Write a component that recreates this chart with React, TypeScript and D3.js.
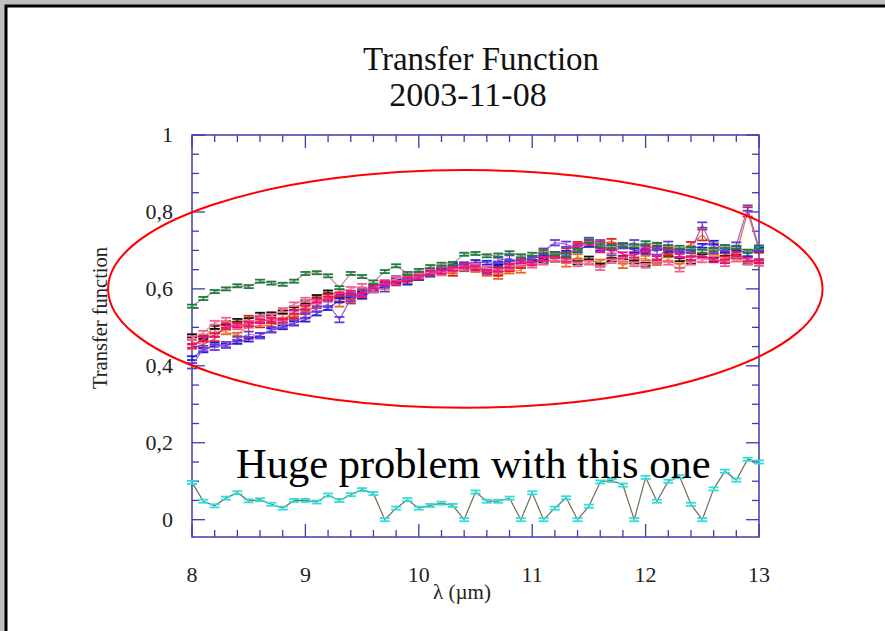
import React from "react";
import * as d3 from "d3";

const W = 885;
const H = 631;

// Wavelength grid (µm)
const lambda = [
  8.0, 8.1, 8.2, 8.3, 8.4, 8.5, 8.6, 8.7, 8.8, 8.9,
  9.0, 9.1, 9.2, 9.3, 9.4, 9.5, 9.6, 9.7, 9.8, 9.9,
  10.0, 10.1, 10.2, 10.3, 10.4, 10.5, 10.6, 10.7, 10.8, 10.9,
  11.0, 11.1, 11.2, 11.3, 11.4, 11.5, 11.6, 11.7, 11.8, 11.9,
  12.0, 12.1, 12.2, 12.3, 12.4, 12.5, 12.6, 12.7, 12.8, 12.9, 13.0,
];

const greenTF = [
  0.555, 0.575, 0.593, 0.6, 0.608, 0.606, 0.62, 0.615, 0.612, 0.62,
  0.64, 0.642, 0.634, 0.603, 0.64, 0.632, 0.618, 0.645, 0.66, 0.64,
  0.648, 0.658, 0.664, 0.666, 0.69, 0.692, 0.686, 0.688, 0.694, 0.686,
  0.69, 0.697, 0.692, 0.688, 0.7, 0.724, 0.712, 0.71, 0.714, 0.712,
  0.72, 0.716, 0.71, 0.708, 0.705, 0.698, 0.702, 0.71, 0.708, 0.698, 0.708,
];

const blackTF = [
  0.478, 0.474, 0.5, 0.512, 0.518, 0.52, 0.534, 0.535, 0.54, 0.548,
  0.566, 0.58, 0.592, 0.582, 0.58, 0.59, 0.6, 0.612, 0.618, 0.624,
  0.64, 0.636, 0.648, 0.655, 0.65, 0.66, 0.652, 0.66, 0.668, 0.664,
  0.67, 0.672, 0.676, 0.686, 0.668, 0.68, 0.662, 0.676, 0.682, 0.67,
  0.664, 0.672, 0.69, 0.676, 0.67, 0.686, 0.676, 0.69, 0.684, 0.668, 0.672,
];

const redTF = [
  0.462, 0.455, 0.47, 0.505, 0.506, 0.5, 0.506, 0.505, 0.512, 0.53,
  0.54, 0.556, 0.58, 0.575, 0.568, 0.596, 0.604, 0.614, 0.62, 0.63,
  0.636, 0.644, 0.648, 0.64, 0.658, 0.662, 0.646, 0.64, 0.652, 0.66,
  0.668, 0.68, 0.69, 0.7, 0.716, 0.722, 0.716, 0.724, 0.712, 0.7,
  0.704, 0.712, 0.694, 0.7, 0.716, 0.74, 0.712, 0.69, 0.692, 0.8, 0.7,
];
const redErr = [
  0.006, 0.008, 0.006, 0.006, 0.006, 0.03, 0.006, 0.006, 0.008, 0.006,
  0.006, 0.006, 0.006, 0.008, 0.006, 0.006, 0.006, 0.006, 0.006, 0.006,
  0.006, 0.006, 0.006, 0.006, 0.006, 0.006, 0.006, 0.006, 0.006, 0.006,
  0.006, 0.006, 0.006, 0.006, 0.006, 0.006, 0.006, 0.006, 0.006, 0.006,
  0.006, 0.006, 0.006, 0.006, 0.006, 0.014, 0.006, 0.006, 0.006, 0.012, 0.006,
];

const orangeTF = [
  0.45, 0.47, 0.49, 0.488, 0.48, 0.505, 0.52, 0.518, 0.528, 0.522,
  0.548, 0.575, 0.585, 0.56, 0.575, 0.58, 0.598, 0.606, 0.622, 0.62,
  0.63, 0.64, 0.65, 0.646, 0.656, 0.65, 0.64, 0.632, 0.646, 0.648,
  0.676, 0.69, 0.676, 0.664, 0.684, 0.672, 0.67, 0.686, 0.66, 0.676,
  0.68, 0.668, 0.676, 0.66, 0.69, 0.686, 0.696, 0.68, 0.684, 0.676, 0.666,
];

const blueTF = [
  0.42, 0.44, 0.455, 0.452, 0.462, 0.468, 0.48, 0.492, 0.5, 0.51,
  0.52, 0.536, 0.55, 0.57, 0.584, 0.58, 0.596, 0.61, 0.62, 0.616,
  0.628, 0.64, 0.646, 0.66, 0.664, 0.67, 0.668, 0.666, 0.67, 0.676,
  0.68, 0.684, 0.69, 0.694, 0.7, 0.714, 0.704, 0.708, 0.712, 0.7,
  0.696, 0.706, 0.702, 0.698, 0.704, 0.712, 0.72, 0.7, 0.706, 0.69, 0.702,
];

const purpleTF = [
  0.4, 0.445, 0.448, 0.455, 0.47, 0.482, 0.478, 0.494, 0.505, 0.512,
  0.53, 0.548, 0.56, 0.52, 0.574, 0.59, 0.602, 0.6, 0.626, 0.632,
  0.638, 0.64, 0.654, 0.662, 0.66, 0.656, 0.65, 0.674, 0.68, 0.668,
  0.676, 0.698, 0.72, 0.716, 0.706, 0.726, 0.72, 0.694, 0.712, 0.72,
  0.706, 0.696, 0.716, 0.69, 0.7, 0.766, 0.7, 0.706, 0.714, 0.81, 0.706,
];

const magentaTF = [
  0.452, 0.47, 0.48, 0.5, 0.505, 0.508, 0.516, 0.52, 0.518, 0.54,
  0.552, 0.57, 0.575, 0.586, 0.59, 0.584, 0.606, 0.615, 0.614, 0.625,
  0.63, 0.642, 0.644, 0.652, 0.66, 0.654, 0.644, 0.65, 0.66, 0.672,
  0.666, 0.678, 0.688, 0.676, 0.712, 0.72, 0.7, 0.706, 0.69, 0.686,
  0.7, 0.68, 0.706, 0.686, 0.68, 0.688, 0.674, 0.672, 0.69, 0.676, 0.672,
];

const pinkTF = [
  0.472, 0.486, 0.512, 0.52, 0.5, 0.512, 0.525, 0.53, 0.545, 0.56,
  0.572, 0.568, 0.574, 0.594, 0.6, 0.608, 0.596, 0.618, 0.626, 0.634,
  0.636, 0.644, 0.64, 0.65, 0.652, 0.66, 0.654, 0.648, 0.656, 0.664,
  0.66, 0.668, 0.676, 0.672, 0.664, 0.668, 0.654, 0.672, 0.676, 0.664,
  0.66, 0.672, 0.668, 0.65, 0.668, 0.674, 0.68, 0.664, 0.676, 0.668, 0.666,
];

const cyanTF = [
  0.097, 0.048, 0.036, 0.056, 0.07, 0.049, 0.052, 0.04, 0.03, 0.05,
  0.05, 0.046, 0.064, 0.05, 0.065, 0.078, 0.068, 0.0, 0.03, 0.052,
  0.03, 0.037, 0.043, 0.037, 0.0, 0.072, 0.048, 0.048, 0.056, 0.0,
  0.07, 0.0, 0.03, 0.057, 0.0, 0.035, 0.098, 0.102, 0.09, 0.0,
  0.11, 0.048, 0.1, 0.112, 0.04, 0.0, 0.08, 0.126, 0.103, 0.157, 0.15,
];

type Series = {
  name: string;
  values: number[];
  err: number | number[];
  cap: string;
  line: string;
};

const series: Series[] = [
  { name: "orange", values: orangeTF, err: 0.006, cap: "#e8641e", line: "#ef9a3a" },
  { name: "black", values: blackTF, err: 0.004, cap: "#111111", line: "#cc7a3a" },
  { name: "red", values: redTF, err: redErr, cap: "#e02020", line: "#e86a3a" },
  { name: "blue", values: blueTF, err: 0.005, cap: "#2020d8", line: "#7a4ad8" },
  { name: "purple", values: purpleTF, err: 0.007, cap: "#6a3ad8", line: "#a060d8" },
  { name: "pink", values: pinkTF, err: 0.005, cap: "#f0608a", line: "#f590b0" },
  { name: "magenta", values: magentaTF, err: 0.005, cap: "#e8107a", line: "#e8308a" },
  { name: "green", values: greenTF, err: 0.004, cap: "#18803a", line: "#d08aa8" },
  { name: "cyan", values: cyanTF, err: 0.004, cap: "#30dcdc", line: "#6e6e50" },
];

const xMajor = [8, 9, 10, 11, 12, 13];
const yMajor = [0, 0.2, 0.4, 0.6, 0.8, 1];

// Annotation placed in data units: outline around the upper group of curves
const ringCenter = { lambda: 10.41, tf: 0.6 };
const ringRadius = { lambda: 3.15, tf: 0.309 };
const noteText = "Huge problem with this one";
const noteAnchor = { lambda: 8.388, tf: 0.108 };

const commaLocale = d3.formatLocale({
  decimal: ",",
  thousands: ".",
  grouping: [3],
  currency: ["", ""],
});
const fmt = commaLocale.format("~g");

const AXIS = "#3c3cae";
const SERIF = "'Liberation Serif', 'Times New Roman', serif";

export default function App() {
  const x = d3.scaleLinear().domain([8, 13]).range([192, 759]);
  const y = d3.scaleLinear().domain([-0.045, 1]).range([537, 135]);

  const [x0, x1] = x.range();
  const [y0, y1] = y.range();

  const xMinor = d3.range(8, 13.0001, 0.2).filter((v) => Math.abs(v - Math.round(v)) > 1e-6);
  const yMinor = d3.range(0, 1.0001, 0.05).filter((v) => Math.abs(v * 5 - Math.round(v * 5)) > 1e-6);

  const line = d3
    .line<number>()
    .x((_, i) => x(lambda[i]))
    .y((d) => y(d));

  const majorLen = 13;
  const minorLen = 7;
  const capHalf = 5;

  return (
    <svg
      width={W}
      height={H}
      viewBox={`0 0 ${W} ${H}`}
      style={{ position: "absolute", left: 0, top: 0, display: "block" }}
    >
      <rect x={0} y={0} width={W} height={H} fill="#bfbfbf" />
      <rect x={6} y={6} width={W + 20} height={H + 20} fill="#ffffff" stroke="#000000" strokeWidth={3} />

      <text x={481} y={70} textAnchor="middle" fontFamily={SERIF} fontSize={33} fill="#111">
        Transfer Function
      </text>
      <text x={468} y={106} textAnchor="middle" fontFamily={SERIF} fontSize={34} fill="#111">
        2003-11-08
      </text>

      {/* plot frame */}
      <rect x={x0} y={y1} width={x1 - x0} height={y0 - y1} fill="none" stroke={AXIS} strokeWidth={1.5} />

      {/* ticks on all four sides, pointing inward */}
      <g stroke={AXIS} strokeWidth={1.3}>
        {xMajor.map((v) => (
          <g key={`xM${v}`}>
            <line x1={x(v)} x2={x(v)} y1={y0} y2={y0 - majorLen} />
            <line x1={x(v)} x2={x(v)} y1={y1} y2={y1 + majorLen} />
          </g>
        ))}
        {xMinor.map((v) => (
          <g key={`xm${v}`}>
            <line x1={x(v)} x2={x(v)} y1={y0} y2={y0 - minorLen} />
            <line x1={x(v)} x2={x(v)} y1={y1} y2={y1 + minorLen} />
          </g>
        ))}
        {yMajor.map((v) => (
          <g key={`yM${v}`}>
            <line x1={x0} x2={x0 + majorLen} y1={y(v)} y2={y(v)} />
            <line x1={x1} x2={x1 - majorLen} y1={y(v)} y2={y(v)} />
          </g>
        ))}
        {yMinor.map((v) => (
          <g key={`ym${v}`}>
            <line x1={x0} x2={x0 + minorLen} y1={y(v)} y2={y(v)} />
            <line x1={x1} x2={x1 - minorLen} y1={y(v)} y2={y(v)} />
          </g>
        ))}
      </g>

      {/* tick labels */}
      <g fontFamily={SERIF} fontSize={22} fill="#222">
        {xMajor.map((v) => (
          <text key={`xl${v}`} x={x(v)} y={582} textAnchor="middle">
            {fmt(v)}
          </text>
        ))}
        {yMajor.map((v) => (
          <text key={`yl${v}`} x={173} y={y(v) + 7} textAnchor="end">
            {fmt(v)}
          </text>
        ))}
      </g>

      <text x={462} y={599} textAnchor="middle" fontFamily={SERIF} fontSize={21} fill="#222">
        λ (µm)
      </text>
      <text
        transform={`translate(107, 318) rotate(-90)`}
        textAnchor="middle"
        fontFamily={SERIF}
        fontSize={20.5}
        fill="#222"
      >
        Transfer function
      </text>

      {/* data */}
      {series.map((s) => (
        <g key={s.name}>
          <path d={line(s.values) || ""} fill="none" stroke={s.line} strokeWidth={1.2} />
          <g stroke={s.cap} strokeWidth={1.8}>
            {s.values.map((v, i) => {
              const e = Array.isArray(s.err) ? s.err[i] : s.err;
              const cx = x(lambda[i]);
              return (
                <g key={i}>
                  <line x1={cx} x2={cx} y1={y(v - e)} y2={y(v + e)} strokeWidth={1} />
                  <line x1={cx - capHalf} x2={cx + capHalf} y1={y(v + e)} y2={y(v + e)} />
                  <line x1={cx - capHalf} x2={cx + capHalf} y1={y(v - e)} y2={y(v - e)} />
                </g>
              );
            })}
          </g>
        </g>
      ))}

      {/* annotation */}
      <ellipse
        cx={x(ringCenter.lambda)}
        cy={y(ringCenter.tf)}
        rx={x(8 + ringRadius.lambda) - x(8)}
        ry={y(0) - y(ringRadius.tf)}
        fill="none"
        stroke="#ff0000"
        strokeWidth={2}
      />
      <text
        x={x(noteAnchor.lambda)}
        y={y(noteAnchor.tf)}
        fontFamily={SERIF}
        fontSize={42.5}
        fill="#000"
      >
        {noteText}
      </text>
    </svg>
  );
}
